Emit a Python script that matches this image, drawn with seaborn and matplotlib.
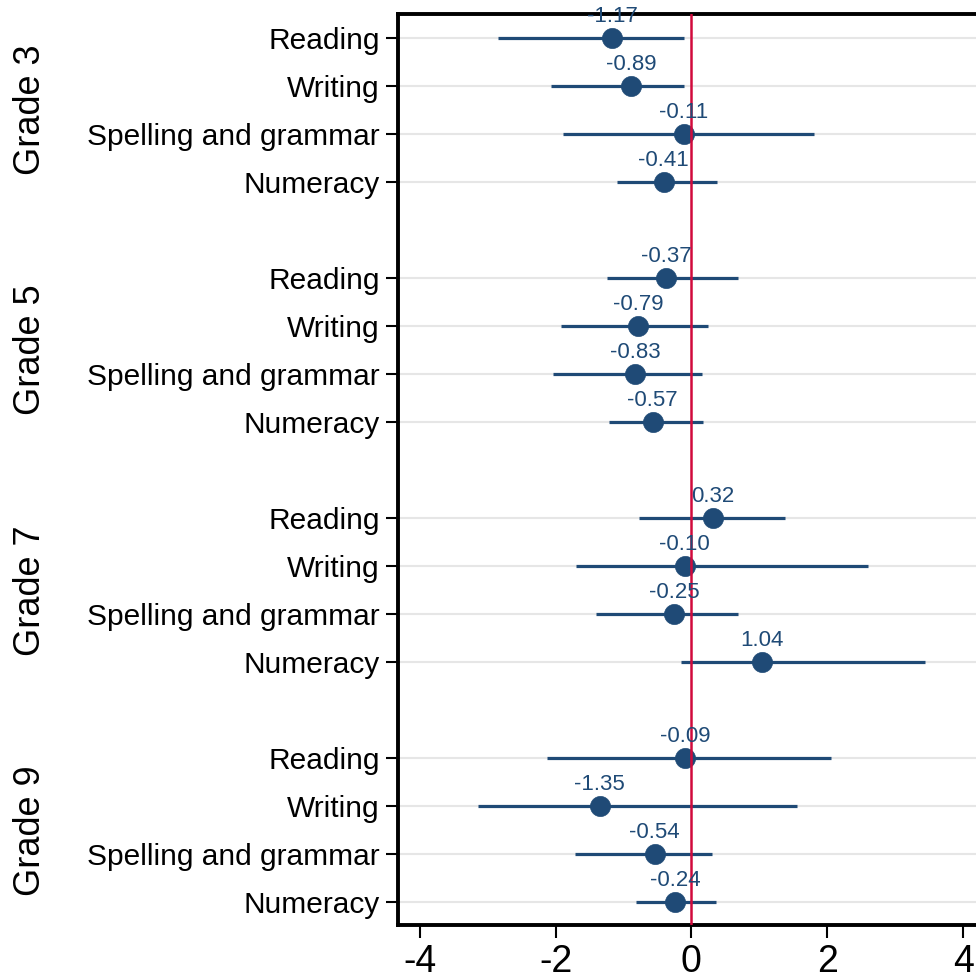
import numpy as np
import pandas as pd
import matplotlib
matplotlib.use("Agg")
import matplotlib.pyplot as plt
import matplotlib.transforms as mtransforms
import seaborn as sns

# ── Data ──────────────────────────────────────────────────────────────────────
grades   = ["Grade 3", "Grade 5", "Grade 7", "Grade 9"]
subjects = ["Reading", "Writing", "Spelling and grammar", "Numeracy"]

estimates = [-1.17, -0.89, -0.11, -0.41,
             -0.37, -0.79, -0.83, -0.57,
              0.32, -0.10, -0.25,  1.04,
             -0.09, -1.35, -0.54, -0.24]
ci_low    = [-2.85, -2.07, -1.89, -1.10,
             -1.25, -1.92, -2.04, -1.21,
             -0.77, -1.70, -1.41, -0.16,
             -2.12, -3.14, -1.72, -0.81]
ci_high   = [-0.11, -0.11,  1.81,  0.38,
              0.68,  0.24,  0.16,  0.17,
              1.38,  2.60,  0.68,  3.44,
              2.06,  1.56,  0.31,  0.36]

df = pd.DataFrame({
    "grade":   np.repeat(grades, len(subjects)),
    "subject": subjects * len(grades),
    "est":     estimates,
    "lo":      ci_low,
    "hi":      ci_high,
})
# row slot: 4 subjects then a one-slot gap before the next grade
df["pos"] = [g * (len(subjects) + 1) + i
             for g in range(len(grades)) for i in range(len(subjects))]

# ── Style ─────────────────────────────────────────────────────────────────────
sns.set_theme(style="white")
plt.rcParams["font.family"] = ["Liberation Sans", "DejaVu Sans"]
plt.rcParams["axes.unicode_minus"] = False
plt.rcParams["text.color"] = "black"
plt.rcParams["xtick.color"] = "black"
plt.rcParams["ytick.color"] = "black"

navy = "#1f4a76"
red  = "#d10a3c"

fig = plt.figure(figsize=(9.76, 9.80), dpi=100)
ax = fig.add_axes([398 / 976, 55 / 980, 1 - 398 / 976, (925 - 14) / 980])

# light horizontal grid at every row
for p in df["pos"]:
    ax.axhline(p, color="#e6e6e6", lw=1.5, zorder=0)

ax.hlines(df["pos"], df["lo"], df["hi"], color=navy, lw=2.3, zorder=2)
sns.scatterplot(data=df, x="est", y="pos", ax=ax, color=navy, s=210,
                edgecolor=navy, linewidth=0.5, zorder=3, legend=False)
ax.axvline(0, color=red, lw=1.8, zorder=4)

for _, r in df.iterrows():
    ax.annotate(f"{r['est']:.2f}", (r["est"], r["pos"]), xytext=(0, 8),
                textcoords="offset points", ha="center", va="bottom",
                fontsize=16, color=navy, zorder=10, annotation_clip=False,
                clip_on=False)

ax.set_xlim(-4.32, 4.19)
ax.set_ylim(df["pos"].max() + 0.47, -0.5)
ax.set_xticks([-4, -2, 0, 2, 4])
ax.set_yticks(df["pos"])
ax.set_yticklabels(df["subject"])
ax.set_xlabel("")
ax.set_ylabel("")

ax.tick_params(axis="y", labelsize=21.5, length=9, width=1.5, colors="black",
               direction="out", left=True, pad=4)
ax.tick_params(axis="x", labelsize=27, length=9.5, width=1.5, colors="black",
               direction="out", bottom=True, pad=4)

for side in ["left", "top", "bottom"]:
    ax.spines[side].set_color("black")
    ax.spines[side].set_linewidth(2.8)
    ax.spines[side].set_zorder(1)
ax.spines["right"].set_visible(False)

# grade group labels on the far left
trans = mtransforms.blended_transform_factory(fig.transFigure, ax.transData)
for g, name in enumerate(grades):
    ax.text(30 / 976, g * (len(subjects) + 1) + 1.5, name, transform=trans,
            rotation=90, ha="center", va="center", fontsize=26, color="black")

fig.savefig("out.png", dpi=100)
